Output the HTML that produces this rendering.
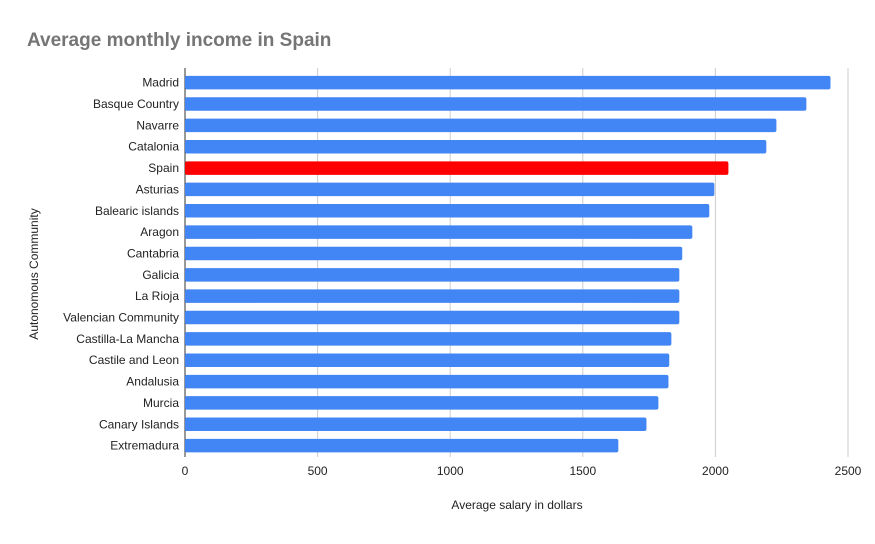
<!DOCTYPE html>
<html><head><meta charset="utf-8"><style>
body{margin:0;background:#fff;font-family:"Liberation Sans",Arial,sans-serif}
</style></head><body>
<svg id="chart" width="875" height="539" xmlns="http://www.w3.org/2000/svg">
<text x="27" y="46" font-size="19" font-weight="bold" fill="#757575">Average monthly income in Spain</text>
<g id="grid"></g><g id="bars"></g><g id="ylabels"></g><g id="xlabels"></g>
<text x="517" y="509" font-size="12" text-anchor="middle" fill="#222">Average salary in dollars</text>
<text transform="translate(38,274) rotate(-90)" font-size="12" text-anchor="middle" fill="#222">Autonomous Community</text>
</svg>
<script>
const categories=["Madrid","Basque Country","Navarre","Catalonia","Spain","Asturias","Balearic islands","Aragon","Cantabria","Galicia","La Rioja","Valencian Community","Castilla-La Mancha","Castile and Leon","Andalusia","Murcia","Canary Islands","Extremadura"];
const values=[2434,2343,2230,2192,2049,1996,1977,1913,1875,1864,1864,1864,1834,1826,1823,1785,1740,1634];
const xTicks=[0,500,1000,1500,2000,2500];
const NS="http://www.w3.org/2000/svg";
const x0=185,x1=848,xmax=2500,plotTop=72,step=21.35,bh=13.5;
const X=v=>x0+(v/xmax)*(x1-x0);
const Y=i=>plotTop+step*i+step/2;
function mk(t,a,p){const e=document.createElementNS(NS,t);for(const k in a)e.setAttribute(k,a[k]);p.appendChild(e);return e;}
const g=document.getElementById('grid'),b=document.getElementById('bars'),yl=document.getElementById('ylabels'),xl=document.getElementById('xlabels');
xTicks.forEach(t=>{
 const l=mk('line',{x1:X(t),x2:X(t),y1:68,y2:457,stroke:t===0?'#333':'#ccc','stroke-width':1},g);
 
 
 const tx=mk('text',{x:X(t),y:475,'font-size':12,'text-anchor':'middle',fill:'#222'},xl);
 tx.textContent=t;
 
 
});
categories.forEach((c,i)=>{
 const r=mk('rect',{x:X(0),y:Y(i)-bh/2,width:X(values[i])-X(0),height:bh,rx:2,fill:c==='Spain'?'#ff0000':'#4285f4'},b);
 
 
 const t=mk('text',{x:179,y:Y(i)+4,'font-size':12,'text-anchor':'end',fill:'#222'},yl);
 t.textContent=c;
 
 
});
</script>
</body></html>
